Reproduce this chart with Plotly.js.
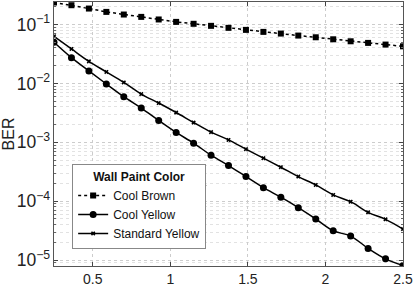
<!DOCTYPE html>
<html><head><meta charset="utf-8">
<script src="https://cdn.plot.ly/plotly-3.0.1.min.js"></script>
<style>html,body{margin:0;padding:0;background:#fff}#chart{width:413px;height:288px}</style>
</head><body><div id="chart"></div>
<script>
const snr = [0.25,0.3625,0.475,0.5875,0.7,0.8125,0.925,1.0375,1.15,1.2625,1.375,1.4875,1.6,1.7125,1.825,1.9375,2.05,2.1625,2.275,2.3875,2.5];
const coolBrown = [0.237,0.213,0.187,0.164,0.148,0.135,0.122,0.111,0.103,0.0951,0.0879,0.0812,0.0751,0.0703,0.0650,0.0608,0.0562,0.0520,0.0488,0.0457,0.0427];
const coolYellow = [0.0500,0.0274,0.0163,0.00979,0.00595,0.00382,0.00235,0.00147,0.000969,0.000605,0.000403,0.000262,0.000170,0.000117,7.77e-5,4.99e-5,3.15e-5,2.56e-5,1.58e-5,1.05e-5,8.13e-6];
const standardYellow = [0.0632,0.0386,0.0237,0.0157,0.0104,0.00661,0.00465,0.00321,0.00217,0.00149,0.00110,0.000766,0.000538,0.000378,0.000262,0.000189,0.000128,9.82e-5,6.48e-5,4.93e-5,3.37e-5];
const names = ['Cool Brown','Cool Yellow','Standard Yellow'];
const xTicks = [0.5,1,1.5,2,2.5];

const traces = [
  {x:snr,y:coolBrown,name:names[0],mode:'lines+markers',
   line:{color:'#000',width:1.5,dash:'dot'},marker:{symbol:'square',size:6,color:'#000'}},
  {x:snr,y:coolYellow,name:names[1],mode:'lines+markers',
   line:{color:'#000',width:1.5,shape:'spline',smoothing:1},marker:{symbol:'circle',size:7,color:'#000'}},
  {x:snr,y:standardYellow,name:names[2],mode:'lines+markers',
   line:{color:'#000',width:1.5,shape:'spline',smoothing:1},marker:{symbol:'x',size:4,color:'#000'}}
];
const layout = {
  width:413,height:288,
  margin:{l:54,r:10,t:2,b:22},
  paper_bgcolor:'#fff',plot_bgcolor:'#fff',
  font:{family:'Liberation Sans, Arial, sans-serif',color:'#222',size:12},
  showlegend:true,
  legend:{x:0.052,y:0.385,xanchor:'left',yanchor:'top',bgcolor:'#fff',
    bordercolor:'#888',borderwidth:1,font:{size:12,color:'#111'},
    title:{text:'<b>Wall Paint Color</b>',side:'top center',font:{size:12,color:'#111'}},
    tracegroupgap:0},
  xaxis:{range:[0.25,2.5],tickvals:xTicks,ticktext:xTicks.map(String),
    ticks:'inside',ticklen:4,tickcolor:'#444',mirror:'ticks',
    showline:true,linecolor:'#555',linewidth:1,
    showgrid:true,gridcolor:'#ccc',griddash:'dot',gridwidth:1,zeroline:false,
    tickfont:{size:14,color:'#222'}},
  yaxis:{type:'log',range:[-5.10,-0.617],dtick:1,exponentformat:'power',
    ticks:'inside',ticklen:4,tickcolor:'#444',mirror:'allticks',
    showline:true,linecolor:'#555',linewidth:1,
    showgrid:true,gridcolor:'#ccc',griddash:'dot',gridwidth:1,zeroline:false,
    minor:{ticks:'inside',ticklen:2,tickcolor:'#666',showgrid:true,gridcolor:'#e2e2e2',griddash:'dot'},
    tickfont:{size:14,color:'#222'},
    title:{text:'BER',font:{size:16,color:'#222'},standoff:4}},
  shapes:[{type:'line',xref:'paper',yref:'paper',x0:0.052,x1:0.437,y0:0.305,y1:0.305,line:{color:'#888',width:1}}]
};
Plotly.newPlot('chart',traces,layout,{displayModeBar:false,staticPlot:true});
</script></body></html>
